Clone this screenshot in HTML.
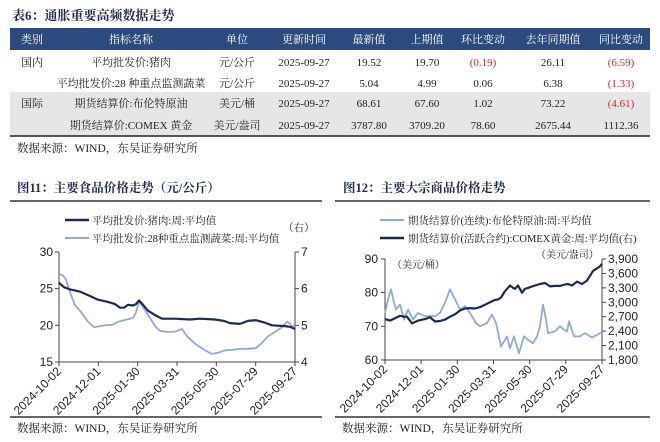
<!DOCTYPE html>
<html><head><meta charset="utf-8">
<style>
body{margin:0;background:#fff;width:660px;height:442px;overflow:hidden}
svg{display:block}
text{font-family:"Liberation Serif","Noto Serif CJK SC",serif}
.cj{font-family:"Liberation Serif","Noto Serif CJK SC",serif}
.ax{font-family:"Liberation Sans","Noto Sans CJK SC",sans-serif;font-size:12px;fill:#222}
</style></head><body>
<svg id="s" width="660" height="442" xmlns="http://www.w3.org/2000/svg">
<text x="12" y="20" font-size="13" font-weight="bold" fill="#1a2a55">表6：通胀重要高频数据走势</text>
<rect x="10" y="28" width="640" height="22" fill="#2c4a7d"/>
<g font-size="11" fill="#fff" text-anchor="middle">
<text x="32" y="43">类别</text><text x="131" y="43">指标名称</text><text x="237" y="43">单位</text><text x="304" y="43">更新时间</text><text x="369" y="43">最新值</text><text x="427" y="43">上期值</text><text x="483" y="43">环比变动</text><text x="553" y="43">去年同期值</text><text x="621" y="43">同比变动</text>
</g>
<rect x="10" y="92" width="640" height="44" fill="#e6e6e6"/>
<line x1="10" y1="136" x2="650" y2="136" stroke="#222" stroke-width="1.5"/>
<g font-size="11" fill="#222" text-anchor="middle">
<text x="32" y="66">国内</text><text x="131" y="66">平均批发价:猪肉</text><text x="237" y="66">元/公斤</text><text x="304" y="66">2025-09-27</text><text x="369" y="66">19.52</text><text x="427" y="66">19.70</text><text x="483" y="66" fill="#e02020">(0.19)</text><text x="553" y="66">26.11</text><text x="621" y="66" fill="#e02020">(6.59)</text>
<text x="131" y="87">平均批发价:28 种重点监测蔬菜</text><text x="237" y="87">元/公斤</text><text x="304" y="87">2025-09-27</text><text x="369" y="87">5.04</text><text x="427" y="87">4.99</text><text x="483" y="87">0.06</text><text x="553" y="87">6.38</text><text x="621" y="87" fill="#e02020">(1.33)</text>
<text x="32" y="107">国际</text><text x="131" y="107">期货结算价:布伦特原油</text><text x="237" y="107">美元/桶</text><text x="304" y="107">2025-09-27</text><text x="369" y="107">68.61</text><text x="427" y="107">67.60</text><text x="483" y="107">1.02</text><text x="553" y="107">73.22</text><text x="621" y="107" fill="#e02020">(4.61)</text>
<text x="131" y="129">期货结算价:COMEX 黄金</text><text x="237" y="129">美元/盎司</text><text x="304" y="129">2025-09-27</text><text x="369" y="129">3787.80</text><text x="427" y="129">3709.20</text><text x="483" y="129">78.60</text><text x="553" y="129">2675.44</text><text x="621" y="129">1112.36</text>
</g>
<text x="17" y="152" font-size="11.5" fill="#222">数据来源：WIND，东吴证券研究所</text>

<text x="17" y="192" font-size="12.5" font-weight="bold" fill="#1a2a55">图11：主要食品价格走势（元/公斤）</text>
<line x1="10" y1="201" x2="322" y2="201" stroke="#333" stroke-width="1.5"/>
<line x1="65" y1="220" x2="89" y2="220" stroke="#1c2a58" stroke-width="2.5"/>
<text x="92" y="224" font-size="10.5" fill="#222">平均批发价:猪肉:周:平均值</text>
<line x1="65" y1="238" x2="89" y2="238" stroke="#8eaadb" stroke-width="2"/>
<text x="92" y="242" font-size="10.5" fill="#222">平均批发价:28种重点监测蔬菜:周:平均值</text>
<text x="283" y="231" font-size="10.5" fill="#222">（右）</text>
<g stroke="#444" stroke-width="1"><line x1="59" y1="252" x2="59" y2="362"/><line x1="295" y1="252" x2="295" y2="362"/><line x1="59" y1="362" x2="295" y2="362"/></g>
<g id="t1"></g>
<text x="17" y="432" font-size="11.5" fill="#222">数据来源：WIND，东吴证券研究所</text>
<line x1="10" y1="417" x2="322" y2="417" stroke="#333" stroke-width="1.5"/>

<text x="343" y="192" font-size="12.5" font-weight="bold" fill="#1a2a55">图12：主要大宗商品价格走势</text>
<line x1="335" y1="201" x2="650" y2="201" stroke="#333" stroke-width="1.5"/>
<line x1="380" y1="220" x2="404" y2="220" stroke="#8eaadb" stroke-width="2"/>
<text x="408" y="224" font-size="10.5" fill="#222">期货结算价(连续):布伦特原油:周:平均值</text>
<line x1="380" y1="238" x2="404" y2="238" stroke="#1c2a58" stroke-width="2.5"/>
<text x="408" y="242" font-size="10.5" fill="#222">期货结算价(活跃合约):COMEX黄金:周:平均值(右)</text>
<text x="392" y="268" font-size="10" fill="#222">（美元/桶）</text>
<text x="536" y="258" font-size="10" fill="#222">（美元/盎司）</text>
<g stroke="#444" stroke-width="1"><line x1="385" y1="259" x2="385" y2="360"/><line x1="602" y1="259" x2="602" y2="360"/><line x1="385" y1="360" x2="602" y2="360"/></g>
<text x="342" y="432" font-size="11.5" fill="#222">数据来源：WIND，东吴证券研究所</text>
<line x1="335" y1="417" x2="650" y2="417" stroke="#333" stroke-width="1.5"/>
</svg>
<script>
var s=document.getElementById('s'),NS='http://www.w3.org/2000/svg';
function el(t,a,txt){var e=document.createElementNS(NS,t);for(var k in a)e.setAttribute(k,a[k]);if(txt!=null)e.textContent=txt;s.appendChild(e);return e;}
function poly(pts,fy,col,w){el('polyline',{points:pts.map(function(p){return p[0]+','+fy(p[1]).toFixed(1)}).join(' '),fill:'none',stroke:col,'stroke-width':w,'stroke-linejoin':'round'});}
var dates=['2024-10-02','2024-12-01','2025-01-30','2025-03-31','2025-05-30','2025-07-29','2025-09-27'];
function xaxis(x0,x1,y){for(var i=0;i<7;i++){var x=x0+(x1-x0)*i/6;el('line',{x1:x,y1:y,x2:x,y2:y+4,stroke:'#444'});el('text',{x:x+3,y:y+10,'text-anchor':'end',transform:'rotate(-45 '+(x+3)+' '+(y+10)+')','class':'ax','font-size':'11'},dates[i]);}}
// chart1
[30,25,20,15].forEach(function(v){var y=252+(30-v)*7.333;el('text',{x:53,y:y+4,'text-anchor':'end','class':'ax'},v);el('line',{x1:55,y1:y,x2:59,y2:y,stroke:'#444'});});
[7,6,5,4].forEach(function(v){var y=252+(7-v)*36.67;el('text',{x:301,y:y+4,'class':'ax'},v);el('line',{x1:295,y1:y,x2:299,y2:y,stroke:'#444'});});
xaxis(59,295,362);
var veg=[[59,6.4],[63,6.36],[66,6.25],[70,5.9],[75,5.55],[80,5.4],[88,5.1],[94,4.95],[100,4.98],[105,5.0],[113,5.02],[118,5.1],[124,5.14],[133,5.2],[136,5.35],[139,5.65],[144,5.45],[150,5.2],[156,4.95],[160,4.85],[167,4.82],[175,4.83],[182,4.9],[187,4.7],[195,4.5],[205,4.32],[212,4.22],[218,4.25],[225,4.32],[232,4.33],[240,4.36],[248,4.36],[256,4.38],[262,4.52],[268,4.7],[275,4.82],[282,4.95],[287,5.1],[290,5.05],[292,4.95],[295,5.02]];
poly(veg,function(v){return 252+(7-v)*36.67},'#8eaadb',1.8);
var pork=[[59,25.8],[64,25.2],[70,24.9],[80,24.6],[90,24],[98,23.5],[108,23.2],[115,22.9],[120,22.4],[124,22.4],[128,22.8],[133,22.7],[136,22.9],[139,23.4],[143,22.8],[148,22],[155,21.4],[162,20.9],[175,20.9],[190,20.8],[200,20.9],[215,20.8],[224,20.6],[230,20.3],[240,20.2],[248,20.6],[256,20.7],[264,20.4],[272,20],[285,19.9],[290,19.8],[295,19.5]];
poly(pork,function(v){return 252+(30-v)*7.333},'#1c2a58',2.2);
// chart2
[90,80,70,60].forEach(function(v){var y=259+(90-v)*3.367;el('text',{x:378,y:y+4,'text-anchor':'end','class':'ax'},v);el('line',{x1:381,y1:y,x2:385,y2:y,stroke:'#444'});});
[3900,3600,3300,3000,2700,2400,2100,1800].forEach(function(v){var y=259+(3900-v)/2100*101;el('text',{x:608,y:y+4,'class':'ax'},v.toLocaleString('en-US'));el('line',{x1:602,y1:y,x2:606,y2:y,stroke:'#444'});});
xaxis(385,602,360);
var oil=[[385,74],[388,78],[391,81],[394,77],[396,75],[400,76.5],[404,72],[408,75],[413,72],[418,74],[425,73],[435,73],[440,74],[445,77],[450,81],[455,78],[460,75],[465,76],[470,74],[476,71],[480,70],[487,71],[492,73.5],[496,71],[501,64],[505,66],[507,67],[510,63.5],[514,67],[519,62],[524,67],[528,66],[533,65],[537,67],[540,70],[543,76.5],[546,72],[548,68],[555,68.5],[560,70],[564,69],[567,68.5],[569,71.5],[574,67],[580,67],[585,68],[592,66.7],[597,67.5],[602,68.3]];
poly(oil,function(v){return 259+(90-v)*3.367},'#8eaadb',1.8);
var gold=[[385,2650],[390,2620],[395,2670],[400,2720],[404,2700],[407,2700],[412,2560],[418,2620],[425,2650],[430,2690],[435,2600],[440,2610],[445,2640],[450,2700],[455,2750],[460,2830],[465,2870],[470,2880],[475,2870],[480,2900],[485,2950],[490,3000],[495,3050],[498,3060],[501,3100],[505,3230],[510,3350],[513,3300],[515,3280],[518,3350],[522,3200],[525,3280],[528,3300],[535,3350],[540,3380],[545,3400],[550,3330],[555,3340],[560,3340],[565,3370],[568,3380],[572,3350],[577,3430],[582,3380],[587,3450],[590,3550],[593,3650],[598,3720],[600,3750],[602,3800]];
poly(gold,function(v){return 259+(3900-v)/2100*101},'#1c2a58',2.2);
</script>
</body></html>
